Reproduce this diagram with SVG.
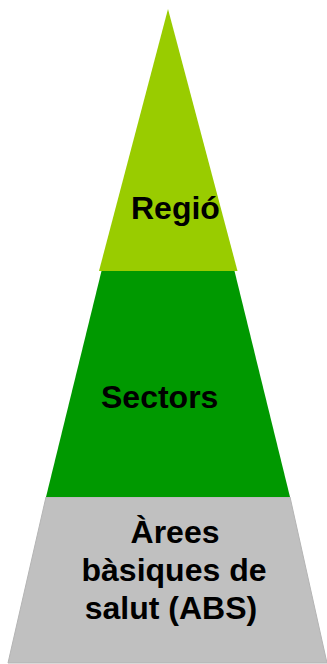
<svg xmlns="http://www.w3.org/2000/svg" width="327" height="664" viewBox="0 0 327 664">
<style>
.lbl{font-family:"Liberation Sans",Arial,sans-serif;font-weight:bold;font-size:32px;fill:#000}
</style>
<rect width="327" height="664" fill="#ffffff"/>
<g id="abs">
<polygon points="46,497 290,497 327,663 8,663" fill="#c0c0c0" stroke="#b4b4b4" stroke-width="1"/>
<text class="lbl" x="175" y="543" text-anchor="middle">Àrees</text>
<text class="lbl" x="174" y="581" text-anchor="middle">bàsiques de</text>
<text class="lbl" x="171" y="619" text-anchor="middle">salut (ABS)</text>
</g>
<g id="sectors">
<polygon points="101.5,271 234.5,271 290,497 46,497" fill="#009900"/>
<text class="lbl" x="101" y="408">Sectors</text>
</g>
<g id="regio">
<polygon points="168,9 237.5,271 99,271" fill="#99cc00"/>
<text class="lbl" x="131" y="219">Regió</text>
</g>
<g id="connectors"/>
</svg>
